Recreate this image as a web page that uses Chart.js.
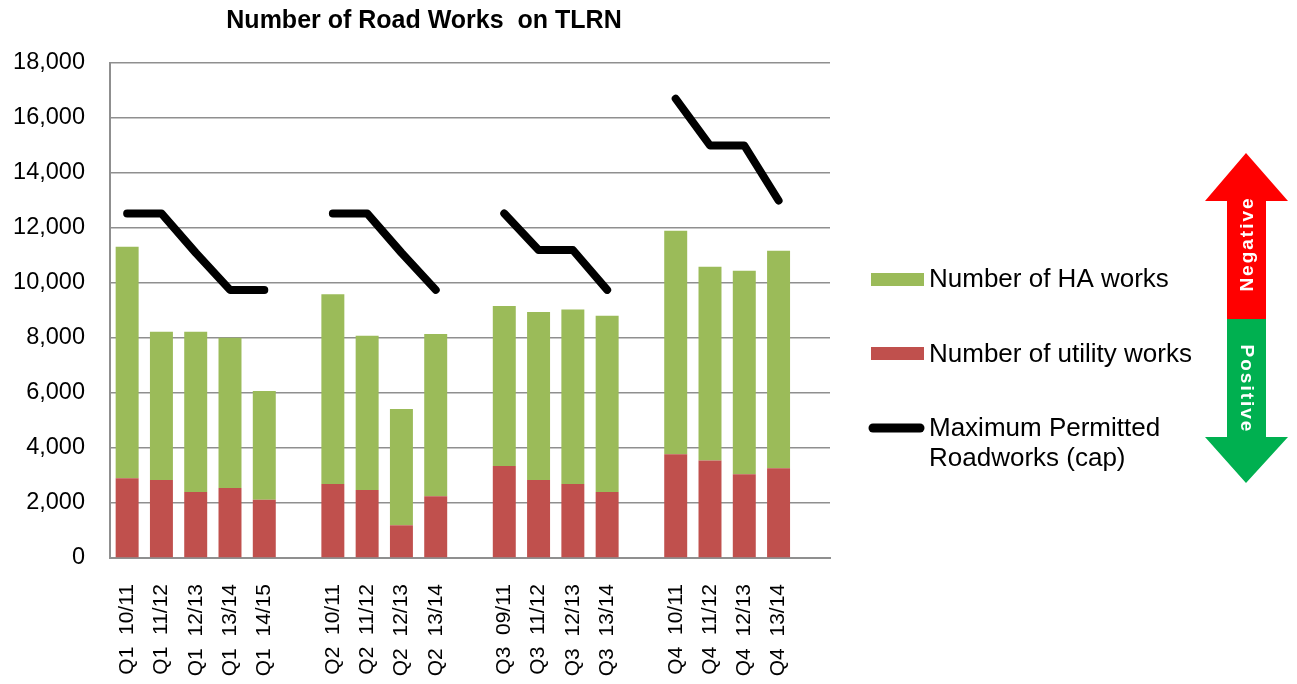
<!DOCTYPE html>
<html>
<head>
<meta charset="utf-8">
<title>Number of Road Works on TLRN</title>
<script src="https://cdn.jsdelivr.net/npm/chart.js@4.4.1/dist/chart.umd.min.js"></script>
<style>
    html, body { margin: 0; padding: 0; background: #fff; }
    #roadChart { display: block; }
</style>
</head>
<body>
<canvas id="roadChart" width="1297" height="684"></canvas>
<script>
// Chart data (empty labels / nulls are the gaps between quarters)
const quarters = [
    'Q1  10/11', 'Q1  11/12', 'Q1  12/13', 'Q1  13/14', 'Q1  14/15', '',
    'Q2  10/11', 'Q2  11/12', 'Q2  12/13', 'Q2  13/14', '',
    'Q3  09/11', 'Q3  11/12', 'Q3  12/13', 'Q3  13/14', '',
    'Q4  10/11', 'Q4  11/12', 'Q4  12/13', 'Q4  13/14', ''
];
const utilityWorks = [
    2900, 2840, 2400, 2550, 2120, null,
    2690, 2470, 1190, 2250, null,
    3350, 2840, 2690, 2400, null,
    3770, 3550, 3050, 3260, null
];
const haWorks = [
    8420, 5390, 5830, 5460, 3950, null,
    6900, 5610, 4230, 5900, null,
    5810, 6110, 6350, 6410, null,
    8130, 7040, 7400, 7910, null
];
const capWorks = [
    12530, 12530, 11100, 9750, 9750, null,
    12530, 12530, 11100, 9750, null,
    12530, 11200, 11200, 9750, null,
    16700, 15000, 15000, 13000, null
];
const yTicks = [0, 2000, 4000, 6000, 8000, 10000, 12000, 14000, 16000, 18000];

const FONT = "'Liberation Sans', Arial, sans-serif";
const GREEN = '#9BBB59';
const RED = '#C0504D';
const GRID = '#8f8f8f';

// Title, legend and the Negative/Positive arrow
const extrasPlugin = {
    id: 'extras',
    afterDraw(chart) {
        const ctx = chart.ctx;
        ctx.save();

        // Title
        ctx.fillStyle = '#000';
        ctx.font = 'bold 25px ' + FONT;
        ctx.textAlign = 'center';
        ctx.textBaseline = 'middle';
        ctx.fillText('Number of Road Works  on TLRN', 424, 21);

        // Legend
        const ds = chart.data.datasets;
        ctx.font = '26px ' + FONT;
        ctx.textAlign = 'left';
        ctx.fillStyle = ds[1].backgroundColor;
        ctx.fillRect(871, 273, 53, 13);
        ctx.fillStyle = '#000';
        ctx.fillText(ds[1].label, 929, 280);

        ctx.fillStyle = ds[0].backgroundColor;
        ctx.fillRect(871, 347, 53, 13);
        ctx.fillStyle = '#000';
        ctx.fillText(ds[0].label, 929, 355);

        ctx.strokeStyle = '#000';
        ctx.lineWidth = 9;
        ctx.lineCap = 'round';
        ctx.beginPath();
        ctx.moveTo(873, 428);
        ctx.lineTo(920, 428);
        ctx.stroke();
        ds[2].label.split('\n').forEach((line, i) => {
            ctx.fillText(line, 929, 429 + i * 30);
        });

        // Arrow (red up / green down)
        ctx.fillStyle = '#FF0000';
        ctx.beginPath();
        ctx.moveTo(1246, 153);
        ctx.lineTo(1288, 201);
        ctx.lineTo(1266, 201);
        ctx.lineTo(1266, 319);
        ctx.lineTo(1227, 319);
        ctx.lineTo(1227, 201);
        ctx.lineTo(1205, 201);
        ctx.closePath();
        ctx.fill();

        ctx.fillStyle = '#00B050';
        ctx.beginPath();
        ctx.moveTo(1227, 319);
        ctx.lineTo(1266, 319);
        ctx.lineTo(1266, 437);
        ctx.lineTo(1288, 437);
        ctx.lineTo(1246, 483);
        ctx.lineTo(1205, 437);
        ctx.lineTo(1227, 437);
        ctx.closePath();
        ctx.fill();

        ctx.fillStyle = '#fff';
        ctx.font = 'bold 19px ' + FONT;
        ctx.textAlign = 'center';
        if ('letterSpacing' in ctx) ctx.letterSpacing = '2px';

        ctx.save();
        ctx.translate(1248, 245);
        ctx.rotate(-Math.PI / 2);
        ctx.fillText('Negative', 1, 0);
        ctx.restore();

        ctx.save();
        ctx.translate(1246, 388);
        ctx.rotate(Math.PI / 2);
        ctx.fillText('Positive', 1, 0);
        ctx.restore();

        ctx.restore();
    }
};

function initChart() {
    const ctx = document.getElementById('roadChart').getContext('2d');

    new Chart(ctx, {
        type: 'bar',
        data: {
            labels: quarters,
            datasets: [
                {
                    label: 'Number of utility works',
                    data: utilityWorks,
                    backgroundColor: RED,
                    stack: 'works',
                    order: 1
                },
                {
                    label: 'Number of HA works',
                    data: haWorks,
                    backgroundColor: GREEN,
                    stack: 'works',
                    order: 1
                },
                {
                    type: 'line',
                    label: 'Maximum Permitted\nRoadworks (cap)',
                    data: capWorks,
                    borderColor: '#000',
                    backgroundColor: '#000',
                    borderWidth: 8,
                    borderCapStyle: 'round',
                    borderJoinStyle: 'round',
                    pointRadius: 0,
                    tension: 0,
                    spanGaps: false,
                    stack: 'cap',
                    order: 0
                }
            ]
        },
        options: {
            responsive: false,
            animation: false,
            layout: {
                padding: { top: 63, right: 467, bottom: 0, left: 0 }
            },
            datasets: {
                bar: { categoryPercentage: 1, barPercentage: 0.67 }
            },
            scales: {
                x: {
                    stacked: true,
                    grid: { display: false },
                    border: { display: true, color: GRID, width: 2 },
                    ticks: {
                        autoSkip: false,
                        maxRotation: 90,
                        minRotation: 90,
                        padding: 18,
                        color: '#000',
                        font: { family: FONT, size: 21 }
                    },
                    afterFit(scale) { scale.height = 126; }
                },
                y: {
                    stacked: true,
                    min: 0,
                    max: 18000,
                    afterBuildTicks(scale) {
                        scale.ticks = yTicks.map(v => ({ value: v }));
                    },
                    grid: { color: GRID, lineWidth: 1.5, drawTicks: false },
                    border: { display: true, color: GRID, width: 2 },
                    ticks: {
                        padding: 25,
                        color: '#000',
                        font: { family: FONT, size: 23.5 },
                        callback: v => v.toLocaleString('en-US')
                    },
                    afterFit(scale) { scale.width = 110; }
                }
            },
            plugins: {
                legend: { display: false },
                title: { display: false },
                tooltip: { enabled: false }
            }
        },
        plugins: [extrasPlugin]
    });
}

document.addEventListener('DOMContentLoaded', initChart);
</script>
</body>
</html>
